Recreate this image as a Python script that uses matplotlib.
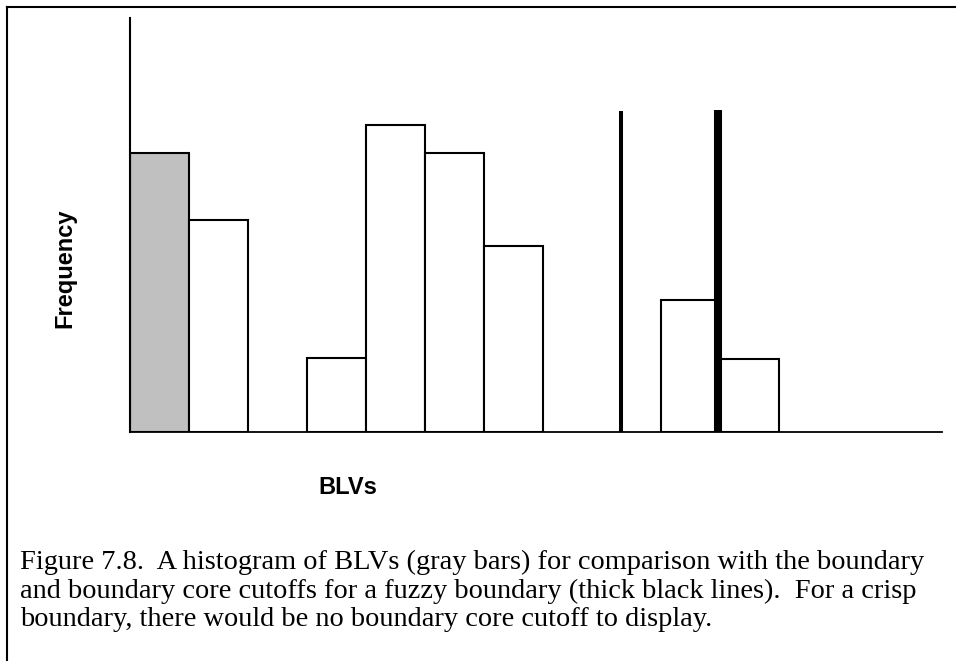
import matplotlib
matplotlib.use("Agg")
import matplotlib.pyplot as plt
from matplotlib.lines import Line2D

# histogram bins (bin index along BLV axis) and frequencies
bin_starts = [0, 1, 3, 4, 5, 6, 9, 10]
frequencies = [27.9, 21.2, 7.4, 30.7, 27.9, 18.6, 13.2, 7.3]
bar_colors = ["#c0c0c0", "white", "white", "white", "white", "white", "white", "white"]

# cutoff lines: boundary (thinner) and boundary core (thicker)
cutoff_x = [8.32, 9.97]
cutoff_top = [32.1, 32.2]
cutoff_widths = [2.9, 5.8]

caption_lines = [
    "Figure 7.8.  A histogram of BLVs (gray bars) for comparison with the boundary",
    "and boundary core cutoffs for a fuzzy boundary (thick black lines).  For a crisp",
    "boundary, there would be no boundary core cutoff to display.",
]
caption_baselines = [569, 598, 626]

fig = plt.figure(figsize=(9.56, 6.61), dpi=100)
ax = fig.add_axes([130/956, 1 - 432/661, (942 - 130)/956, (432 - 18)/661])

ax.bar(bin_starts, frequencies, width=1, align="edge", color=bar_colors,
       edgecolor="black", linewidth=1.5, zorder=2)
for x, top, lw in zip(cutoff_x, cutoff_top, cutoff_widths):
    ax.plot([x, x], [0, top], color="black", linewidth=lw, solid_capstyle="butt", zorder=3)

ax.set_xlim(0, 812/59)
ax.set_ylim(0, 41.4)
ax.set_xticks([])
ax.set_yticks([])
for s in ["top", "right"]:
    ax.spines[s].set_visible(False)
ax.spines["left"].set_linewidth(1.5)
ax.spines["bottom"].set_linewidth(1.3)

fig.text(65/956, 1 - 268/661, "Frequency", rotation=90, ha="center", va="center",
         fontsize=17, fontweight="bold", family="Liberation Sans")
fig.text(348/956, 1 - 487/661, "BLVs", ha="center", va="center",
         fontsize=17, fontweight="bold", family="Liberation Sans")
for line, yb in zip(caption_lines, caption_baselines):
    fig.text(20/956, 1 - yb/661, line, ha="left", va="baseline", fontsize=20.4,
             family="Liberation Serif")

# frame lines on top and left of the figure
fig.add_artist(Line2D([7/956, 1], [1 - 7/661, 1 - 7/661], color="black", linewidth=1.5))
fig.add_artist(Line2D([7/956, 7/956], [0, 1 - 7/661], color="black", linewidth=1.5))

fig.savefig("out.png", dpi=100)
